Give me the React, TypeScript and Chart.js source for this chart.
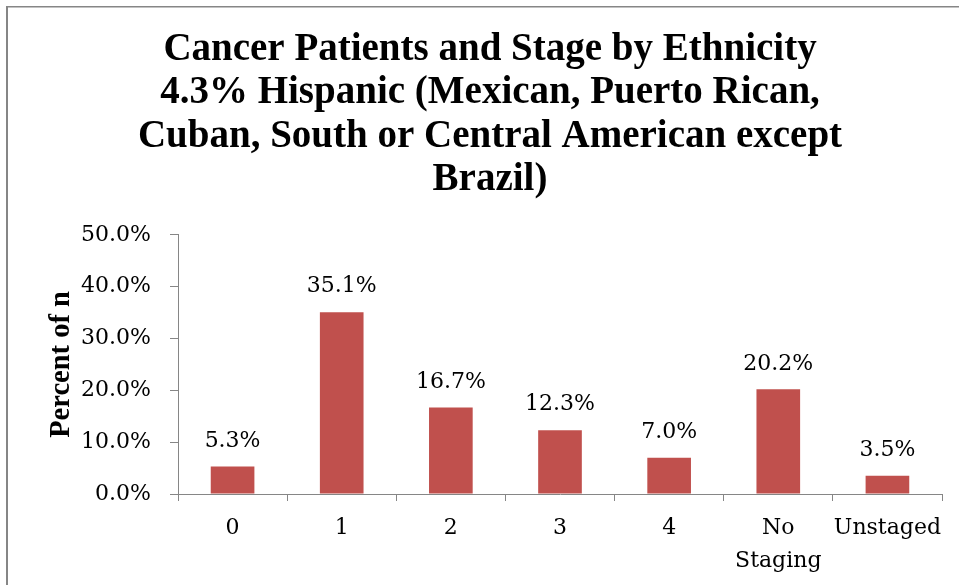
import React, { useEffect, useRef } from "react";
import { Chart, registerables } from "chart.js";

Chart.register(...registerables);

const categories: (string | string[])[] = ["0", "1", "2", "3", "4", ["No", "Staging"], "Unstaged"];
const percentValues: number[] = [5.3, 35.1, 16.7, 12.3, 7.0, 20.2, 3.5];
const titleLines: string[] = [
  "Cancer Patients and Stage by Ethnicity",
  "4.3% Hispanic (Mexican, Puerto Rican,",
  "Cuban, South or Central American except",
  "Brazil)",
];
const yAxisTitle = "Percent of n";
const yMin = 0;
const yMax = 50;
const yStep = 10;

const AXIS_GREY = "#868686";
const BAR_RED = "#C0504D";
const SERIF = "'DejaVu Serif', serif";
const BOLD_SERIF = "'Liberation Serif', 'Times New Roman', serif";

const frameAndLabels = {
  id: "frameAndLabels",
  beforeDraw(chart: any) {
    const ctx = chart.ctx;
    ctx.save();
    ctx.fillStyle = "#ffffff";
    ctx.fillRect(0, 0, chart.width, chart.height);
    ctx.fillStyle = AXIS_GREY;
    ctx.fillRect(6, 6, chart.width - 6, 1.5);
    ctx.fillRect(6, 6, 2, chart.height - 6);
    ctx.restore();
  },
  afterDatasetsDraw(chart: any) {
    const ctx = chart.ctx;
    const meta = chart.getDatasetMeta(0);
    const data = chart.data.datasets[0].data as number[];
    ctx.save();
    ctx.font = `22px ${SERIF}`;
    ctx.fillStyle = "#000000";
    ctx.textAlign = "center";
    ctx.textBaseline = "middle";
    meta.data.forEach((bar: any, i: number) => {
      ctx.fillText(`${data[i].toFixed(1)}%`, bar.x, bar.y - 25.5);
    });
    ctx.restore();
  },
};

export default function App() {
  const canvasRef = useRef<HTMLCanvasElement | null>(null);

  useEffect(() => {
    if (!canvasRef.current) return;
    const chart = new Chart(canvasRef.current, {
      type: "bar",
      data: {
        labels: categories,
        datasets: [
          {
            data: percentValues,
            backgroundColor: BAR_RED,
            borderWidth: 0,
            categoryPercentage: 1,
            barPercentage: 0.4,
          },
        ],
      },
      options: {
        responsive: false,
        animation: false,
        devicePixelRatio: 1,
        layout: { padding: { left: 38, right: 17, top: 0, bottom: 0 } },
        plugins: {
          legend: { display: false },
          tooltip: { enabled: false },
          title: {
            display: true,
            text: titleLines,
            color: "#000000",
            font: { family: BOLD_SERIF, size: 39, weight: "bold", lineHeight: 1.115 },
            padding: { top: 28, bottom: 33 },
          },
        },
        scales: {
          x: {
            grid: {
              display: true,
              drawOnChartArea: false,
              drawTicks: true,
              tickLength: 7,
              color: AXIS_GREY,
              offset: true,
            },
            border: { display: true, color: AXIS_GREY, width: 1 },
            ticks: {
              color: "#000000",
              font: { family: SERIF, size: 22, lineHeight: 1.48 },
              padding: 11,
              maxRotation: 0,
              autoSkip: false,
            },
            afterFit: (scale: any) => {
              scale.height = 91;
            },
          },
          y: {
            min: yMin,
            max: yMax,
            grid: {
              display: true,
              drawOnChartArea: false,
              drawTicks: true,
              tickLength: 8,
              color: AXIS_GREY,
            },
            border: { display: true, color: AXIS_GREY, width: 1 },
            ticks: {
              stepSize: yStep,
              color: "#000000",
              font: { family: SERIF, size: 22 },
              padding: 19,
              callback: (v: any) => `${Number(v).toFixed(1)}%`,
            },
            title: {
              display: true,
              text: yAxisTitle,
              color: "#000000",
              font: { family: BOLD_SERIF, size: 28.5, weight: "bold" },
              padding: { top: 7, bottom: 0 },
            },
            afterFit: (scale: any) => {
              scale.width = 140;
            },
          },
        },
      },
      plugins: [frameAndLabels],
    });
    return () => chart.destroy();
  }, []);

  return (
    <div style={{ position: "fixed", left: 0, top: 0, width: 959, height: 585, background: "#fff" }}>
      <canvas ref={canvasRef} width={959} height={585} style={{ display: "block" }} />
    </div>
  );
}
